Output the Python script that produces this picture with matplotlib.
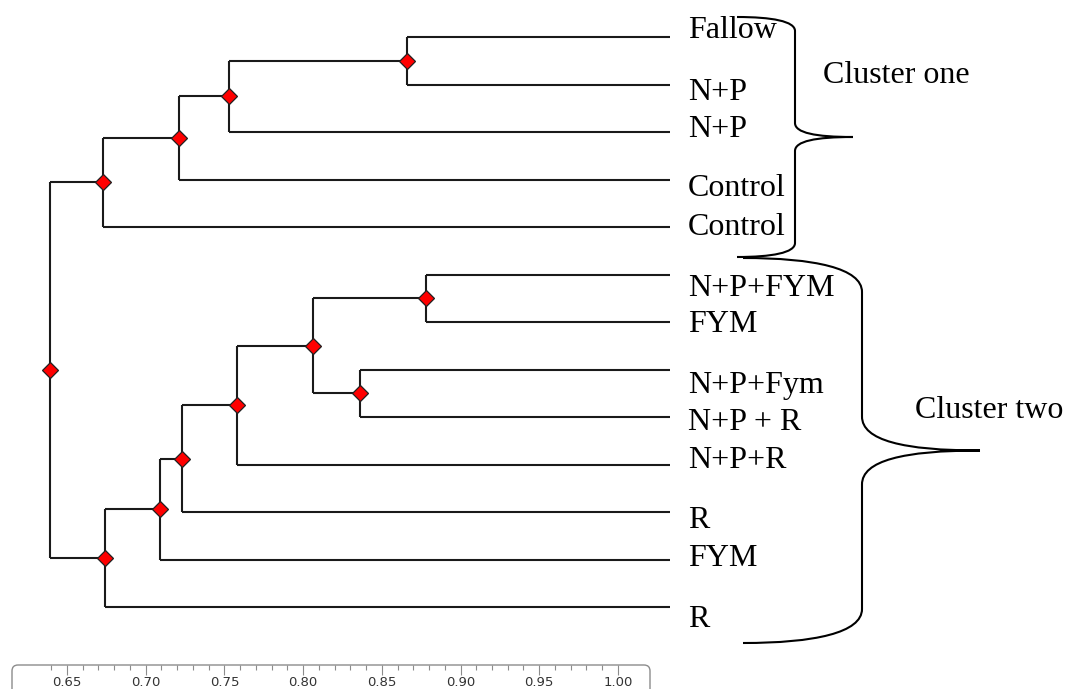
import numpy as np
import matplotlib
matplotlib.use("Agg")
import matplotlib.pyplot as plt
from matplotlib.path import Path
from matplotlib.patches import PathPatch, FancyBboxPatch
from matplotlib.transforms import Affine2D, IdentityTransform

# leaves, top to bottom
leaf_labels = ["Fallow", "N+P", "N+P", "Control", "Control",
               "N+P+FYM", "FYM", "N+P+Fym", "N+P + R", "N+P+R",
               "R", "FYM", "R"]

# linkage rows: ids 0..12 are leaves, row k creates node id 13+k
merge_a = [0, 13, 14, 15, 5, 7, 17, 19, 20, 21, 22, 16]
merge_b = [1, 2, 3, 4, 6, 8, 18, 9, 10, 11, 12, 23]
merge_sim = [0.866, 0.753, 0.721, 0.673, 0.878, 0.836, 0.806,
             0.758, 0.723, 0.709, 0.674, 0.639]
leaf_sim = 1.033  # the leaf lines run a bit past 1.00

scale_major = [0.65, 0.70, 0.75, 0.80, 0.85, 0.90, 0.95, 1.00]
scale_minor = [round(0.64 + 0.01 * i, 2) for i in range(37)]

cluster_names = ["Cluster one", "Cluster two"]

# layout (pixels, top-left origin)
FIG_W, FIG_H = 1065, 689
X065_PX, PX_PER_UNIT = 67, 1574
LEAF0_PX, LEAF_STEP_PX = 37, 47.5
LABEL_X_PX = 688
label_nudge_px = [1, 15, 5, 17, 8, 21, 10, 24, 13, 4, 16, 6, 20]

fig = plt.figure(figsize=(FIG_W / 100, FIG_H / 100), dpi=100)
ax = fig.add_axes([0, 0, 1, 1])
ax.axis("off")
ax.set_xlim(0.65 - X065_PX / PX_PER_UNIT, 0.65 + (FIG_W - X065_PX) / PX_PER_UNIT)
ax.set_ylim((FIG_H - LEAF0_PX) / LEAF_STEP_PX, -LEAF0_PX / LEAF_STEP_PX)

pix = Affine2D().scale(1, -1).translate(0, FIG_H)

# --- tree ---
n_leaf = len(leaf_labels)
node_x = {i: leaf_sim for i in range(n_leaf)}
node_y = {i: float(i) for i in range(n_leaf)}
line_kw = dict(color="#1a1a1a", lw=1.5, solid_capstyle="butt", zorder=2)
for k, (a, b, h) in enumerate(zip(merge_a, merge_b, merge_sim)):
    nid = n_leaf + k
    ax.plot([node_x[a], h], [node_y[a], node_y[a]], **line_kw)
    ax.plot([node_x[b], h], [node_y[b], node_y[b]], **line_kw)
    ax.plot([h, h], [node_y[a], node_y[b]], **line_kw)
    node_x[nid] = h
    node_y[nid] = (node_y[a] + node_y[b]) / 2

inner = list(range(n_leaf, n_leaf + len(merge_sim)))
ax.plot([node_x[i] for i in inner], [node_y[i] for i in inner], ls="none",
        marker="D", ms=8, mfc="#ff0000", mec="#202020", mew=0.9, zorder=3)

# leaf labels
label_x = 0.65 + (LABEL_X_PX - X065_PX) / PX_PER_UNIT
for i, (lab, nud) in enumerate(zip(leaf_labels, label_nudge_px)):
    ax.text(label_x, i + nud / LEAF_STEP_PX, lab, family="Liberation Serif",
            fontsize=23, ha="left", va="baseline", color="black")


# --- braces ---
def brace(arm, spine, tip, top, bottom, curl):
    mid = (top + bottom) / 2
    verts = [
        (arm, top), (arm + 0.6 * (spine - arm), top), (spine, top + 0.3 * curl), (spine, top + curl),
        (spine, mid - curl),
        (spine, mid - 0.3 * curl), (spine + 0.35 * (tip - spine), mid), (tip, mid),
        (spine + 0.35 * (tip - spine), mid), (spine, mid + 0.3 * curl), (spine, mid + curl),
        (spine, bottom - curl),
        (spine, bottom - 0.3 * curl), (arm + 0.6 * (spine - arm), bottom), (arm, bottom),
    ]
    codes = [Path.MOVETO, Path.CURVE4, Path.CURVE4, Path.CURVE4,
             Path.LINETO,
             Path.CURVE4, Path.CURVE4, Path.CURVE4,
             Path.CURVE4, Path.CURVE4, Path.CURVE4,
             Path.LINETO,
             Path.CURVE4, Path.CURVE4, Path.CURVE4]
    fig.add_artist(PathPatch(Path(verts, codes), fc="none", ec="black",
                             lw=1.5, transform=pix))


brace(737, 795, 853, 17, 257, 14)
brace(743, 862, 980, 258, 643, 34)
fig.text(823, 83, cluster_names[0], transform=pix, family="Liberation Serif",
         fontsize=23, ha="left", va="baseline")
fig.text(915, 418, cluster_names[1], transform=pix, family="Liberation Serif",
         fontsize=23, ha="left", va="baseline")

# --- similarity scale ---
frame = FancyBboxPatch((12, -30), 638, (FIG_H - 665) + 30,
                       boxstyle="round,pad=0,rounding_size=6",
                       fc="none", ec="#8c8c8c", lw=1.0,
                       transform=IdentityTransform())
fig.add_artist(frame)

ax2 = fig.add_axes([0, (FIG_H - 665) / FIG_H, 1, 0.001])
ax2.set_xlim(ax.get_xlim())
ax2.patch.set_visible(False)
for sp in ax2.spines.values():
    sp.set_visible(False)
ax2.set_yticks([])
ax2.set_xticks(scale_major)
ax2.set_xticklabels([f"{v:.2f}" for v in scale_major])
ax2.set_xticks(scale_minor, minor=True)
ax2.tick_params(axis="x", which="major", direction="out", length=7.2, width=0.8,
                color="#8c8c8c", labelsize=9.5, labelcolor="#333333", pad=0.5)
ax2.tick_params(axis="x", which="minor", direction="out", length=3.6, width=0.8,
                color="#8c8c8c")

fig.savefig("out.png", dpi=100)
